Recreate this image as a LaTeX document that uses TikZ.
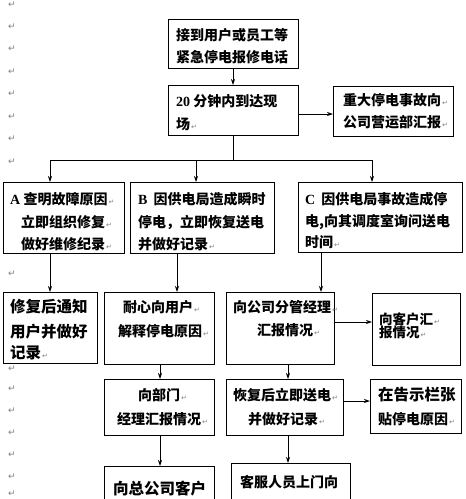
\documentclass[tikz,border=0pt]{standalone}
\usepackage{fontspec}
\setmainfont{Noto Sans CJK SC}
\newfontfamily\dvs{DejaVu Sans}
\newfontfamily\lat{Liberation Serif}
\usetikzlibrary{arrows.meta}
\newcommand\rmk{\hspace{1pt}{\dvs\mdseries\fontsize{7}{7}\selectfont\color{gray}\char"21B5}}
\tikzset{
  box/.style={draw, line width=0.9pt, anchor=north west, inner sep=0pt, outer sep=0pt},
  t/.style={inner sep=0pt, anchor=west, font=\bfseries\fontsize{14}{14}\selectfont},
  tb/.style={t, font=\bfseries\fontsize{15.5}{15.5}\selectfont},
  ts/.style={t, font=\bfseries\fontsize{13.5}{13.5}\selectfont},
  arr/.style={line width=0.8pt, -{Stealth[length=6pt,width=4pt]}},
  ln/.style={line width=0.8pt},
  mk/.style={inner sep=0pt, text=gray, font=\dvs\fontsize{9}{9}\selectfont}
}
\begin{document}
\begin{tikzpicture}[x=1pt,y=-1pt]
\useasboundingbox (0,0) rectangle (466,499);
\fill[white] (0,0) rectangle (466,499);
\clip (0,0) rectangle (466,499);
% paragraph marks in the margin
\foreach \yy [count=\i] in {5,27,49,72,94,117,139,162,274,369,389,411,433,455,477,494}
  \node[mk] (m\i) at (12,\yy) {\char"21B5};
% boxes
\node[box, minimum width=130pt, minimum height=49pt] (b1) at (168,19) {};
\node[box, minimum width=130pt, minimum height=50pt] (b2) at (168,85) {};
\node[box, minimum width=120pt, minimum height=50pt] (r1) at (333,86) {};
\node[box, minimum width=121pt, minimum height=71pt] (A) at (3,182) {};
\node[box, minimum width=144pt, minimum height=71pt] (B) at (130,182) {};
\node[box, minimum width=164pt, minimum height=70pt] (C) at (298,182) {};
\node[box, minimum width=94pt, minimum height=71pt] (D1) at (3,292) {};
\node[box, minimum width=110pt, minimum height=72pt] (D2) at (104,292) {};
\node[box, minimum width=108pt, minimum height=72pt] (D3) at (226,292) {};
\node[box, minimum width=88pt, minimum height=72pt] (D4) at (372,293) {};
\node[box, minimum width=110pt, minimum height=56pt] (E1) at (104,379) {};
\node[box, minimum width=117pt, minimum height=56pt] (E2) at (226,379) {};
\node[box, minimum width=91pt, minimum height=54pt] (E3) at (370,379) {};
\node[box, minimum width=110pt, minimum height=60pt] (F1) at (104,466) {};
\node[box, minimum width=119pt, minimum height=60pt] (F2) at (231,463) {};
% texts
\node[t] (t1) at (176,35) {接到用户或员工等};
\node[t] (t2) at (176,57) {紧急停电报修电话};
\node[t] (t3) at (176,101) {{\lat 20} 分钟内到达现};
\node[t] (t4) at (176,124) {场\rmk};
\node[t] (t5) at (343,100) {重大停电事故向\rmk};
\node[t] (t6) at (343,122) {公司营运部汇报\rmk};
\node[t] (t7) at (10,199) {{\lat A} 查明故障原因\rmk};
\node[t] (t8) at (21,222) {立即组织修复\rmk};
\node[t] (t9) at (21,244) {做好维修纪录\rmk};
\node[t] (t10) at (138,199) {{\lat B}\hspace{6pt}因供电局造成瞬时};
\node[t] (t11) at (138,222) {停电，立即恢复送电};
\node[t] (t12) at (138,244) {并做好记录\rmk};
\node[t] (t13) at (305,199) {{\lat C}\hspace{6pt}因供电局事故造成停};
\node[t] (t14) at (305,222) {电,向其调度室询问送电};
\node[t] (t15) at (305,242) {时间\rmk};
\node[tb] (t16) at (10,307) {修复后通知};
\node[tb] (t17) at (10,332) {用户并做好};
\node[tb] (t18) at (10,353) {记录\rmk};
\node[t] (t19) at (123,307) {耐心向用户\rmk};
\node[t] (t20) at (118,331) {解释停电原因\rmk};
\node[t] (t21) at (233,307) {向公司分管经理\rmk};
\node[t] (t22) at (257,330) {汇报情况\rmk};
\node[ts] (t23) at (379,319) {向客户汇\rmk};
\node[ts] (t24) at (379,332) {报情况\rmk};
\node[t] (t25) at (138,395) {向部门\rmk};
\node[t] (t26) at (117,419) {经理汇报情况\rmk};
\node[t] (t27) at (233,395) {恢复后立即送电\rmk};
\node[t] (t28) at (248,419) {并做好记录\rmk};
\node[tb] (t29) at (378,395) {在告示栏张};
\node[t] (t30) at (378,419) {贴停电原因\rmk};
\node[tb] (t31) at (113,489) {向总公司客户};
\node[t] (t32) at (240,482) {客服人员上门向};
% connectors
\draw[arr] (b1.south) -- (b2.north);
\draw[arr] ([yshift=-4pt]b2.east) -- ([yshift=-4pt]b2.east -| r1.west);
\coordinate (jA) at (50,160);
\coordinate (jB) at (196,160);
\coordinate (jC) at (372,160);
\draw[ln] (b2.south) -- (b2.south |- jA);
\draw[ln] (jA) -- (jC);
\draw[arr] (jA) -- (jA |- A.north);
\draw[arr] (jB) -- (jB |- B.north);
\draw[arr] (jC) -- (jC |- C.north);
\draw[arr] ([xshift=-13.5pt]A.south) -- ([xshift=-13.5pt]A.south |- D1.north);
\draw[arr] ([xshift=-25pt]B.south) -- ([xshift=-25pt]B.south |- D2.north);
\draw[arr] ([xshift=-59pt]C.south) -- ([xshift=-59pt]C.south |- D3.north);
\draw[arr] ([yshift=6pt]D3.east) -- ([yshift=6pt]D3.east -| D4.west);
\draw[arr] ([xshift=1pt]D2.south) -- ([xshift=1pt]D2.south |- E1.north);
\draw[arr] ([xshift=8pt]D3.south) -- ([xshift=8pt]D3.south |- E2.north);
\draw[arr] ([yshift=6pt]E2.east) -- ([yshift=6pt]E2.east -| E3.west);
\draw[arr] ([xshift=1pt]E1.south) -- ([xshift=1pt]E1.south |- F1.north);
\draw[arr] ([xshift=3.5pt]E2.south) -- ([xshift=3.5pt]E2.south |- F2.north);
\end{tikzpicture}
\end{document}
